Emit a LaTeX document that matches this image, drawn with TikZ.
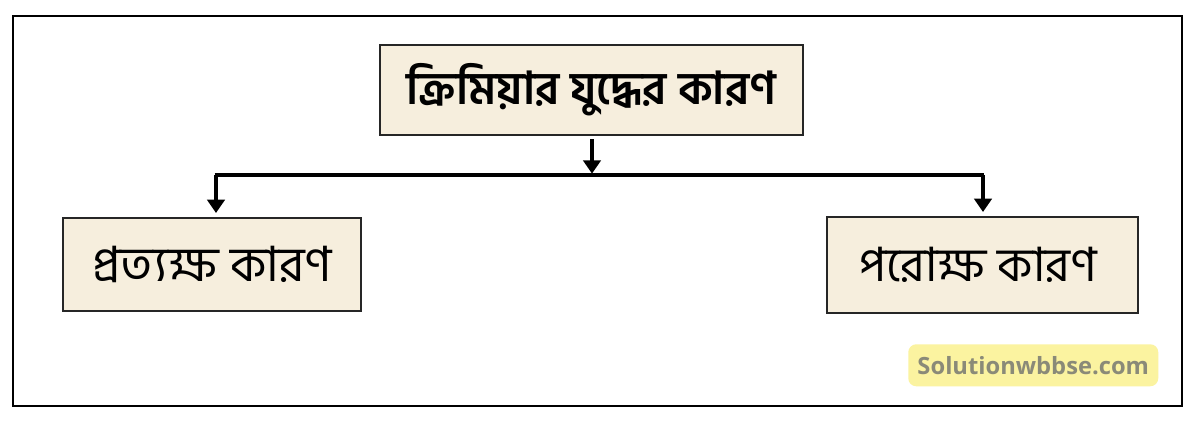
\documentclass[tikz,border=0pt]{standalone}
\usepackage{fontspec}
\newfontfamily\bnfont[Script=Bengali]{Hind Siliguri}
\newfontfamily\wmfont{Open Sans}
\usetikzlibrary{arrows.meta}
\definecolor{boxfill}{HTML}{F6EEDD}
\definecolor{wmfill}{HTML}{FBF3A0}
\definecolor{wmtext}{HTML}{8A8A78}
\tikzset{
  px/.style={x=0.75pt,y=-0.75pt},
  cbox/.style={draw=black!85,line width=1.5pt,fill=boxfill,inner sep=0pt,anchor=north west},
  conn/.style={line width=3pt,black},
  arr/.style={conn,-{Triangle[width=13pt,length=10pt]}},
}
\begin{document}
\begin{tikzpicture}[px]
\useasboundingbox (0,0) rectangle (1200,422);
\fill[white] (0,0) rectangle (1200,422);
\draw[line width=1.5pt] (13,16) rectangle (1182,406);
\node[cbox,minimum width=317pt,minimum height=67.5pt] (top) at (379,44) {};
\node[font=\bnfont\bfseries\fontsize{34}{40}\selectfont] at (top.center) {ক্রিমিয়ার যুদ্ধের কারণ};
\node[cbox,minimum width=223.5pt,minimum height=70pt] (left) at (62,217) {};
\node[font=\bnfont\fontsize{36.5}{42}\selectfont] at (left.center) {প্রত্যক্ষ কারণ};
\node[cbox,minimum width=233pt,minimum height=72pt] (right) at (826,216) {};
\node[font=\bnfont\fontsize{35.5}{42}\selectfont] at ([xshift=-3pt]right.center) {পরোক্ষ কারণ};
\coordinate (j) at (592,175);
\coordinate (hl) at (216,175);
\coordinate (hr) at (983,175);
\draw[arr] ([yshift=-2.5pt]top.south -| j) -- ([yshift=1pt]j);
\draw[conn] ([xshift=-1.1pt]hl) -- ([xshift=1.1pt]hr);
\draw[arr] (hl) -- ([yshift=3pt]hl |- left.north);
\draw[arr] (hr) -- ([yshift=3pt]hr |- right.north);
\node[fill=wmfill,rounded corners=6pt,minimum width=187.5pt,minimum height=31.5pt,anchor=north west,inner sep=0pt] (wm) at (908,344) {};
\node[font=\wmfont\bfseries\fontsize{17.8}{20}\selectfont,text=wmtext] at (wm.center) {Solutionwbbse.com};
\end{tikzpicture}
\end{document}
